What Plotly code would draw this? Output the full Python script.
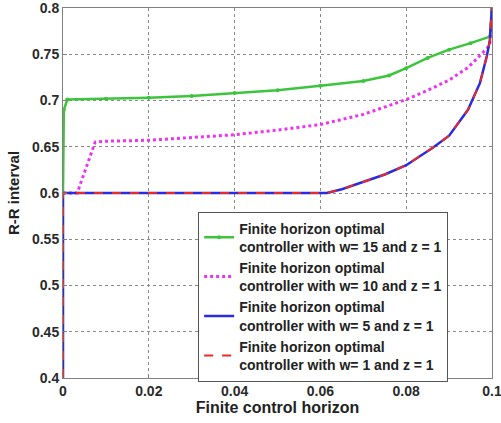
import plotly.graph_objects as go

# Green: w=15
x_w15 = [0, 0.0002, 0.001, 0.01, 0.02, 0.03, 0.04, 0.05, 0.06, 0.07, 0.076, 0.08, 0.085, 0.09, 0.095, 0.0995, 0.1]
y_w15 = [0.6, 0.69, 0.701, 0.702, 0.703, 0.705, 0.708, 0.711, 0.716, 0.721, 0.727, 0.735, 0.746, 0.755, 0.762, 0.769, 0.8]

# Magenta: w=10
x_w10 = [0, 0.0033, 0.0075, 0.01, 0.02, 0.03, 0.04, 0.05, 0.06, 0.07, 0.08, 0.085, 0.09, 0.0945, 0.0972, 0.099, 0.0995, 0.1]
y_w10 = [0.6, 0.6, 0.655, 0.656, 0.657, 0.66, 0.663, 0.668, 0.674, 0.685, 0.701, 0.711, 0.722, 0.736, 0.748, 0.757, 0.762, 0.8]

# Blue / red: w=5, w=1
x_w5 = [0, 0, 0.02, 0.04, 0.06, 0.0615, 0.065, 0.07, 0.075, 0.08, 0.0862, 0.09, 0.0944, 0.0972, 0.0988, 0.0995, 0.1]
y_w5 = [0.4, 0.6, 0.6, 0.6, 0.6, 0.6, 0.604, 0.612, 0.62, 0.63, 0.649, 0.662, 0.69, 0.719, 0.748, 0.765, 0.8]
x_w1 = x_w5
y_w1 = y_w5

x_ticks = [0, 0.02, 0.04, 0.06, 0.08, 0.1]
x_tick_labels = ["0", "0.02", "0.04", "0.06", "0.08", "0.1"]
y_ticks = [0.4, 0.45, 0.5, 0.55, 0.6, 0.65, 0.7, 0.75, 0.8]
y_tick_labels = ["0.4", "0.45", "0.5", "0.55", "0.6", "0.65", "0.7", "0.75", "0.8"]

names = [
    "Finite horizon optimal<br>controller with w= 15 and z = 1",
    "Finite horizon optimal<br>controller with w= 10 and z = 1",
    "Finite horizon optimal<br>controller with w= 5 and z = 1",
    "Finite horizon optimal<br>controller with w= 1 and z = 1",
]

FONT = "Liberation Sans, Arial, sans-serif"

fig = go.Figure()
fig.add_trace(go.Scatter(x=x_w15, y=y_w15, mode="lines+markers", name=names[0],
                         line=dict(color="#3dc43d", width=2.5),
                         marker=dict(size=4, color="#3dc43d")))
fig.add_trace(go.Scatter(x=x_w10, y=y_w10, mode="lines", name=names[1],
                         line=dict(color="#ee33ee", width=3, dash="dot")))
fig.add_trace(go.Scatter(x=x_w5, y=y_w5, mode="lines", name=names[2],
                         line=dict(color="#2a2ae0", width=2.5)))
fig.add_trace(go.Scatter(x=x_w1, y=y_w1, mode="lines", name=names[3],
                         line=dict(color="#e82a2a", width=2, dash="dash")))

axis_common = dict(
    showline=True, mirror=True, linecolor="#808080", linewidth=1,
    showgrid=True, gridcolor="#888888", griddash="dot", gridwidth=1,
    zeroline=False, ticks="inside", ticklen=4, tickcolor="#808080",
    ticklabeloverflow="allow",
    tickfont=dict(family=FONT, size=14, color="#2a2a2a", weight="bold"),
)

fig.update_xaxes(range=[0, 0.1], tickvals=x_ticks, ticktext=x_tick_labels,
                 title=dict(text="Finite control horizon", standoff=2,
                            font=dict(family=FONT, size=16, color="#222222", weight="bold")),
                 **axis_common)
fig.update_yaxes(range=[0.4, 0.8], tickvals=y_ticks, ticktext=y_tick_labels,
                 title=dict(text="R-R interval", standoff=8,
                            font=dict(family=FONT, size=15, color="#222222", weight="bold")),
                 **axis_common)

fig.update_layout(
    width=501, height=423,
    margin=dict(l=63, r=9, t=8, b=45, autoexpand=False),
    paper_bgcolor="white", plot_bgcolor="white",
    font=dict(family=FONT),
    legend=dict(x=0.315, y=0.45, xanchor="left", yanchor="top",
                bgcolor="white", bordercolor="#555555", borderwidth=1,
                font=dict(family=FONT, size=14, color="#222222", weight="bold"),
                tracegroupgap=0, itemwidth=30),
    showlegend=True,
)

fig.write_html("out.html")
